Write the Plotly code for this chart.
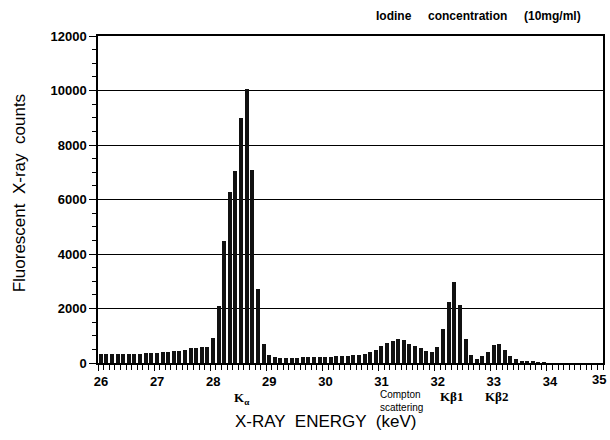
import plotly.graph_objects as go

# Energy bin centres (keV) and counts
energy_kev = [
    26.05, 26.15, 26.25, 26.35, 26.45, 26.55, 26.65, 26.75, 26.85, 26.95,
    27.05, 27.15, 27.25, 27.35, 27.45, 27.55, 27.65, 27.75, 27.85, 27.95,
    28.05, 28.15, 28.25, 28.35, 28.45, 28.55, 28.65, 28.75, 28.85, 28.95,
    29.05, 29.15, 29.25, 29.35, 29.45, 29.55, 29.65, 29.75, 29.85, 29.95,
    30.05, 30.15, 30.25, 30.35, 30.45, 30.55, 30.65, 30.75, 30.85, 30.95,
    31.05, 31.15, 31.25, 31.35, 31.45, 31.55, 31.65, 31.75, 31.85, 31.95,
    32.05, 32.15, 32.25, 32.35, 32.45, 32.55, 32.65, 32.75, 32.85, 32.95,
    33.05, 33.15, 33.25, 33.35, 33.45, 33.55, 33.65, 33.75, 33.85, 33.95,
]
counts = [
    330, 330, 335, 330, 335, 330, 340, 345, 360, 370,
    360, 390, 420, 430, 430, 480, 540, 550, 600, 600,
    900, 2090, 4460, 6290, 7030, 9000, 10050, 7090, 2730, 700,
    290, 220, 190, 195, 185, 195, 205, 210, 220, 220,
    220, 230, 240, 250, 260, 290, 310, 330, 400, 480,
    630, 730, 790, 880, 850, 700, 620, 550, 450, 400,
    570, 1250, 2240, 2970, 2140, 880, 300, 160, 240, 420,
    660, 680, 480, 270, 160, 90, 60, 40, 20, 10,
]

x_ticks = [26, 27, 28, 29, 30, 31, 32, 33, 34, 35]
y_ticks = [0, 2000, 4000, 6000, 8000, 10000, 12000]

peak_labels = ["K<sub>α</sub>", "Compton<br>scattering", "Kβ1", "Kβ2"]
peak_label_px = [242, 403, 453, 498]   # label centres in pixels
peak_label_py = [398, 401, 396, 396]

L, R, T, B = 98, 605, 36, 363
W, H = 610, 440
PW, PH = R - L, B - T


def px_x(p):
    return (p - L) / PW


def px_y(p):
    return (B - p) / PH


fig = go.Figure()
fig.add_trace(go.Bar(
    x=energy_kev, y=counts, width=0.072,
    marker=dict(color="#111111", line=dict(width=0)),
))

fig.update_layout(
    width=W, height=H,
    margin=dict(l=L, r=W - R, t=T, b=H - B),
    paper_bgcolor="white", plot_bgcolor="white",
    showlegend=False,
    font=dict(family="Liberation Sans, Arial, sans-serif", color="black"),
    bargap=0,
)

fig.update_xaxes(
    range=[26, 35], tickvals=x_ticks[:-1], ticktext=[str(t) for t in x_ticks[:-1]],
    showgrid=False, zeroline=False,
    showline=True, linecolor="black", linewidth=1.5, mirror=True,
    ticks="outside", ticklen=6, tickwidth=1.2, tickcolor="black",
    minor=dict(dtick=0.1, tick0=26, ticks="outside", ticklen=5, tickwidth=1, tickcolor="black"),
    tickfont=dict(size=13, family="Liberation Sans, Arial, sans-serif", weight="bold"),
    ticklabelshift=3,
)
fig.update_yaxes(
    range=[0, 12000], tickvals=y_ticks, ticktext=[str(t) for t in y_ticks],
    showgrid=True, gridcolor="black", gridwidth=1.4, zeroline=False,
    showline=True, linecolor="black", linewidth=1.5, mirror=True,
    ticks="outside", ticklen=7, tickwidth=1.2, tickcolor="black",
    minor=dict(dtick=500, ticks="outside", ticklen=4, tickwidth=1, tickcolor="black", showgrid=False),
    tickfont=dict(size=13, family="Liberation Sans, Arial, sans-serif", weight="bold"),
)

# last x tick label, partly outside the plot edge as in the original
fig.add_annotation(
    x=px_x(610), xref="paper", y=px_y(379), yref="paper",
    text=str(x_ticks[-1]), showarrow=False, xanchor="right", yanchor="middle",
    font=dict(size=13, weight="bold"),
)

# Peak labels under the axis
for txt, p, py in zip(peak_labels, peak_label_px, peak_label_py):
    is_compton = txt.startswith("Compton")
    fig.add_annotation(
        x=px_x(p), xref="paper", y=px_y(py), yref="paper",
        xanchor="center", yanchor="middle",
        text=txt, showarrow=False, align="left",
        font=dict(size=10 if is_compton else 13,
                  family=("Liberation Sans, Arial, sans-serif" if is_compton
                          else "Liberation Serif, DejaVu Serif, serif"),
                  weight="normal" if is_compton else "bold"),
    )

fig.add_annotation(
    x=px_x(326), xref="paper", y=px_y(421), yref="paper",
    xanchor="center", yanchor="middle", showarrow=False,
    text="X-RAY  ENERGY  (keV)", font=dict(size=17),
)

fig.add_annotation(
    x=px_x(19), xref="paper", y=px_y(193), yref="paper",
    text="Fluorescent  X-ray  counts", textangle=-90, showarrow=False,
    font=dict(size=17), xanchor="center", yanchor="middle",
)

fig.add_annotation(
    x=px_x(480), xref="paper", y=px_y(16), yref="paper",
    text="Iodine     concentration     (10mg/ml)", showarrow=False,
    font=dict(size=12, weight="bold"), xanchor="center", yanchor="middle",
)

fig.write_html("out.html", config={"displayModeBar": False},
               post_script="document.body.style.margin='0';")
